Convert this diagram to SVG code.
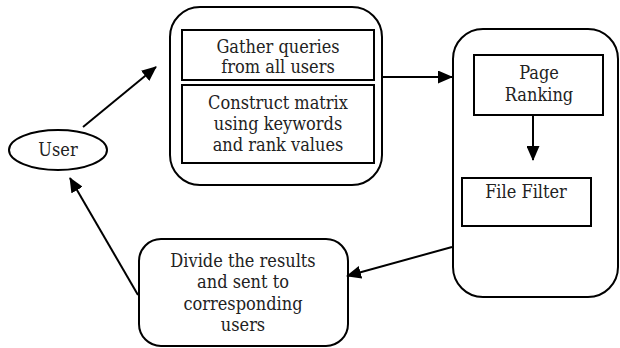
<svg xmlns="http://www.w3.org/2000/svg" width="620" height="348" viewBox="0 0 620 348">
<style>
.box{fill:none;stroke:#000;stroke-width:2}
.t{font-family:'DejaVu Serif Condensed','DejaVu Serif',serif;font-stretch:condensed;font-size:18px;fill:#222;text-anchor:middle}
.c{fill:none;stroke:#000;stroke-width:2}
</style>
<defs>
<marker id="ah" markerUnits="userSpaceOnUse" markerWidth="15" markerHeight="13" refX="14" refY="6.5" orient="auto">
<path d="M0,0 L15,6.5 L0,13 z" fill="#000"/>
</marker>
</defs>
<rect width="620" height="348" fill="#fff"/>
<g id="user">
<ellipse class="box" cx="58" cy="150" rx="49" ry="20"/>
<text class="t" x="58" y="156">User</text>
</g>
<g id="container1">
<rect class="box" x="170" y="7" width="212" height="178" rx="30"/>
</g>
<g id="gather">
<rect class="box" x="182" y="30" width="192" height="50"/>
<text class="t" x="278" y="53">Gather queries</text>
<text class="t" x="278" y="73">from all users</text>
</g>
<g id="construct">
<rect class="box" x="182" y="85" width="192" height="78"/>
<text class="t" x="278" y="109">Construct matrix</text>
<text class="t" x="278" y="130">using keywords</text>
<text class="t" x="278" y="151">and rank values</text>
</g>
<g id="container2">
<rect class="box" x="453" y="29" width="165" height="268" rx="30"/>
</g>
<g id="pageranking">
<rect class="box" x="474" y="55" width="129" height="60"/>
<text class="t" x="539" y="79">Page</text>
<text class="t" x="539" y="101">Ranking</text>
</g>
<g id="filefilter">
<rect class="box" x="462" y="178" width="129" height="48"/>
<text class="t" x="526" y="198">File Filter</text>
</g>
<g id="divide">
<rect class="box" x="139" y="239" width="209" height="107" rx="22"/>
<text class="t" x="243" y="267">Divide the results</text>
<text class="t" x="243" y="288">and sent to</text>
<text class="t" x="243" y="310">corresponding</text>
<text class="t" x="243" y="331">users</text>
</g>
<g id="connectors">
<line class="c" x1="83" y1="127" x2="156" y2="67" marker-end="url(#ah)"/>
<line class="c" x1="382" y1="77" x2="452" y2="77" marker-end="url(#ah)"/>
<line class="c" x1="533" y1="115" x2="533" y2="160" marker-end="url(#ah)"/>
<line class="c" x1="452" y1="247" x2="347" y2="276" marker-end="url(#ah)"/>
<line class="c" x1="138" y1="295" x2="70" y2="178" marker-end="url(#ah)"/>
</g>
</svg>
